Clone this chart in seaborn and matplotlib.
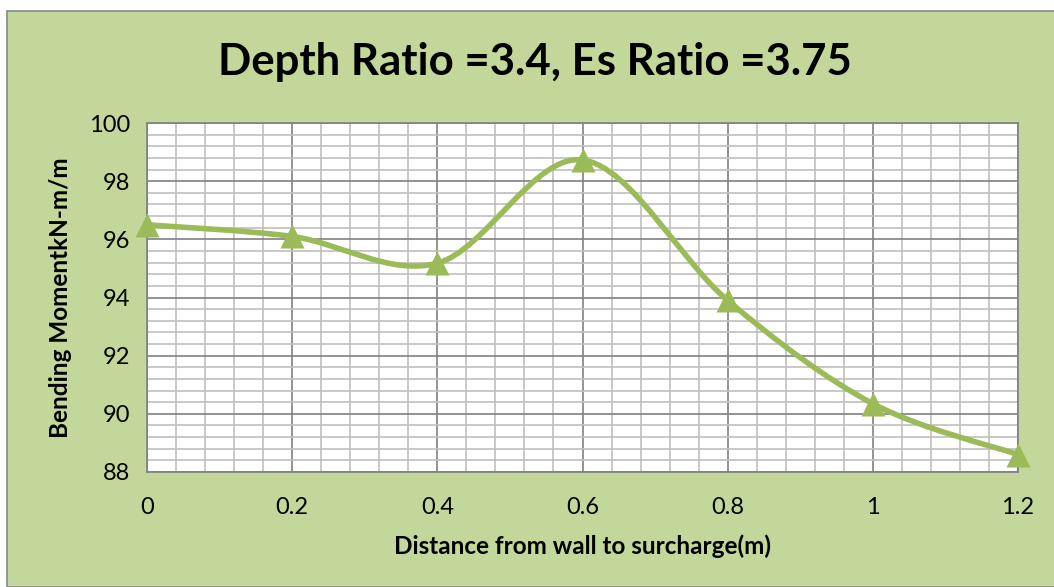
import numpy as np
import pandas as pd
import seaborn as sns
import matplotlib.pyplot as plt
from matplotlib.patches import Rectangle, PathPatch
from matplotlib.path import Path
from matplotlib.ticker import MultipleLocator

# datos
distance = [0, 0.2, 0.4, 0.6, 0.8, 1.0, 1.2]
moment = [96.5, 96.1, 95.18, 98.73, 93.9, 90.35, 88.6]

title = "Depth Ratio =3.4, Es Ratio =3.75"
xlabel = "Distance from wall to surcharge(m)"
ylabel = "Bending MomentkN-m/m"

sns.set_theme(style="white")
plt.rcParams['font.family'] = ['Lato', 'DejaVu Sans']
plt.rcParams['text.color'] = 'black'

green = "#9BBB59"
bg = "#C4D79B"

fig = plt.figure(figsize=(10.54, 5.87), dpi=100, facecolor="white")
fig.patches.append(Rectangle((7 / 1054, 0), 1.0, 1 - 11 / 587, transform=fig.transFigure,
                             facecolor=bg, edgecolor="#888888", linewidth=1.2, zorder=-5))

ax = fig.add_axes([147 / 1054, 1 - 472 / 587, (1018 - 147) / 1054, (472 - 123) / 587])
ax.set_facecolor("white")

df = pd.DataFrame({"x": distance, "y": moment})

# curva suavizada tipo excel (bezier cardinal sobre los puntos)
pts = np.column_stack([distance, moment])
verts = [tuple(pts[0])]
codes = [Path.MOVETO]
n = len(pts)
for i in range(n - 1):
    p0 = pts[i - 1] if i > 0 else pts[i]
    p1 = pts[i]
    p2 = pts[i + 1]
    p3 = pts[i + 2] if i + 2 < n else pts[i + 1]
    c1 = p1 + (p2 - p0) / 6
    c2 = p2 - (p3 - p1) / 6
    verts += [tuple(c1), tuple(c2), tuple(p2)]
    codes += [Path.CURVE4] * 3
ax.add_patch(PathPatch(Path(verts, codes), facecolor="none", edgecolor=green,
                       linewidth=4, zorder=3, capstyle="round", clip_on=False))

sns.scatterplot(data=df, x="x", y="y", marker="^", s=300, color=green,
                edgecolor=green, linewidth=0, zorder=4, ax=ax, clip_on=False)

ax.set_xlim(0, 1.2)
ax.set_ylim(88, 100)
ax.xaxis.set_major_locator(MultipleLocator(0.2))
ax.xaxis.set_minor_locator(MultipleLocator(0.04))
ax.yaxis.set_major_locator(MultipleLocator(2))
ax.yaxis.set_minor_locator(MultipleLocator(0.4))
ax.grid(which="minor", color="#BFBFBF", linewidth=1.2)
ax.grid(which="major", color="#808080", linewidth=1.2)
ax.set_axisbelow(True)
ax.set_xticks(distance)
ax.set_xticklabels(["0", "0.2", "0.4", "0.6", "0.8", "1", "1.2"])
ax.tick_params(which="both", length=0, labelsize=17, colors="black")
ax.tick_params(axis="x", pad=18)
ax.tick_params(axis="y", pad=12)
for s in ax.spines.values():
    s.set_color("#808080")
    s.set_linewidth(1.2)

ax.set_xlabel(xlabel, fontsize=17.5, fontweight="bold", labelpad=12, color="black")
ax.set_ylabel(ylabel, fontsize=17.5, fontweight="bold", labelpad=12, color="black")
fig.text(535 / 1054, 1 - 62 / 587, title, fontsize=31.5, fontweight="bold",
         ha="center", va="center", color="black")

fig.savefig("out.png", dpi=100, facecolor="white")
